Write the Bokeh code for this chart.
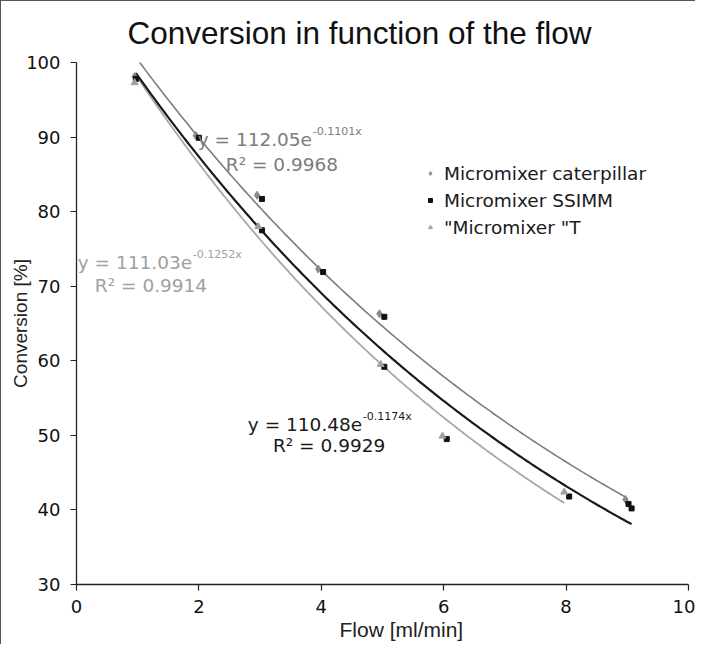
import numpy as np
from bokeh.plotting import figure
from bokeh.models import Range1d, Label, Legend, LegendItem, FixedTicker, Title
from bokeh.embed import file_html
from bokeh.resources import INLINE

# ---------------- data ----------------
title_text = "Conversion in function of the flow"
x_label = "Flow [ml/min]"
y_label = "Conversion [%]"

series_names = ["Micromixer caterpillar", "Micromixer SSIMM", "\"Micromixer \"T"]

cat_x = [0.95, 1.95, 2.95, 3.95, 4.95, 8.97]
cat_y = [98.1, 90.2, 82.2, 72.3, 66.3, 41.4]

ssimm_x = [0.97, 2.00, 3.03, 3.03, 4.03, 5.03, 5.03, 6.05, 8.05, 9.02, 9.07]
ssimm_y = [97.8, 89.9, 81.7, 77.5, 71.9, 65.9, 59.2, 49.5, 41.8, 40.8, 40.2]

t_x = [0.95, 2.97, 4.97, 5.98, 7.97]
t_y = [97.3, 78.0, 59.5, 49.9, 42.4]

# exponential trend-line parameters (y = a * exp(b x)) and R^2
cat_fit = (112.05, -0.1101, 0.9968)
ssimm_fit = (110.48, -0.1174, 0.9929)
t_fit = (111.03, -0.1252, 0.9914)

x_ticks = [0, 2, 4, 6, 8, 10]
y_ticks = [30, 40, 50, 60, 70, 80, 90, 100]

# ---------------- figure ----------------
p = figure(width=695, height=644,
           x_range=Range1d(0, 10), y_range=Range1d(30, 100),
           output_backend="svg", toolbar_location=None,
           min_border_left=75, min_border_right=8,
           min_border_top=59, min_border_bottom=61)
p.styles = {"border-left": "1px solid #555555", "border-top": "1px solid #555555"}

p.background_fill_color = "white"
p.border_fill_color = "white"
p.outline_line_color = None
p.xgrid.visible = False
p.ygrid.visible = False

p.title.text = title_text
p.title.text_font = "Liberation Sans"
p.title.text_font_size = "31.5px"
p.title.text_font_style = "normal"
p.title.text_color = "#111111"
p.title.align = "left"
p.title.offset = 51
p.title.standoff = 23

for ax in (p.xaxis[0], p.yaxis[0]):
    ax.axis_line_color = "#222222"
    ax.axis_line_width = 1.3
    ax.major_tick_line_color = "#222222"
    ax.major_tick_line_width = 1.2
    ax.major_tick_out = 6
    ax.major_tick_in = 0
    ax.minor_tick_line_color = None
    ax.major_label_text_font = "DejaVu Sans"
    ax.major_label_text_font_size = "18px"
    ax.major_label_text_color = "#111111"
    ax.axis_label_text_font = "Liberation Sans"
    ax.axis_label_text_font_size = "19px"
    ax.axis_label_text_font_style = "normal"
    ax.axis_label_text_color = "#222222"

p.xaxis.ticker = FixedTicker(ticks=x_ticks)
p.yaxis.ticker = FixedTicker(ticks=y_ticks)
p.yaxis.axis_label = y_label
p.xaxis.major_label_standoff = 9
p.yaxis.major_label_standoff = 10
p.yaxis.axis_label_standoff = -8

# x-axis caption placed below the axis, shifted right as in the original
xcap = Title(text=x_label, align="left", offset=263, standoff=0,
             text_font="Liberation Sans", text_font_size="21px",
             text_font_style="normal", text_color="#222222")
p.add_layout(xcap, "below")

# ---------------- trend lines ----------------
def trend(xs, fit):
    a, b, _ = fit
    xx = np.linspace(min(xs), max(xs), 200)
    return xx, a * np.exp(b * xx)

cx, cy = trend(cat_x, cat_fit)
sx, sy = trend(ssimm_x, ssimm_fit)
tx, ty = trend(t_x, t_fit)
p.line(cx, cy, line_color="#7c7c7c", line_width=1.6)
p.line(tx, ty, line_color="#a8a8a8", line_width=1.8)
p.line(sx, sy, line_color="#1a1a1a", line_width=2.2)

# ---------------- points ----------------
r_cat = p.scatter(cat_x, cat_y, marker="diamond", size=8,
                  fill_color="#8a8a8a", line_color="#8a8a8a")
r_ssimm = p.scatter(ssimm_x, ssimm_y, marker="square", size=5,
                    fill_color="#111111", line_color="#111111")
r_t = p.scatter(t_x, t_y, marker="triangle", size=7,
                fill_color="#a0a0a0", line_color="#a0a0a0")

legend = Legend(items=[LegendItem(label=series_names[0], renderers=[r_cat]),
                       LegendItem(label=series_names[1], renderers=[r_ssimm]),
                       LegendItem(label=series_names[2], renderers=[r_t])],
                location=(349, 346))
legend.border_line_color = None
legend.background_fill_alpha = 0
legend.label_text_font = "DejaVu Sans"
legend.label_text_font_size = "18.5px"
legend.label_text_color = "#1a1a1a"
legend.glyph_width = 10
legend.glyph_height = 22
legend.label_height = 22
legend.spacing = 5
legend.padding = 0
legend.margin = 0
legend.label_standoff = 9
p.add_layout(legend)

# ---------------- equations ----------------
def equation(x, y, fit, color):
    a, b, r2 = fit
    p.add_layout(Label(x=x, y=y, text=f"y = {a:.2f}e", text_font="DejaVu Sans",
                       text_font_size="18.5px", text_color=color,
                       text_baseline="middle", text_align="left"))
    p.add_layout(Label(x=x, y=y, x_offset=115, y_offset=8, text=f"{b:.4f}x",
                       text_font="DejaVu Sans", text_font_size="11px",
                       text_color=color, text_baseline="middle", text_align="left"))

def r2_label(x, y, fit, color):
    p.add_layout(Label(x=x, y=y, text=f"R\u00b2 = {fit[2]:.4f}", text_font="DejaVu Sans",
                       text_font_size="18.5px", text_color=color,
                       text_baseline="middle", text_align="left"))

equation(1.98, 89.7, cat_fit, "#7c7c7c")
r2_label(2.44, 86.3, cat_fit, "#7c7c7c")
equation(0.02, 73.2, t_fit, "#a0a0a0")
r2_label(0.30, 70.1, t_fit, "#a0a0a0")
equation(2.80, 51.5, ssimm_fit, "#1a1a1a")
r2_label(3.21, 48.6, ssimm_fit, "#1a1a1a")

open("out.html", "w").write(file_html(p, INLINE))
